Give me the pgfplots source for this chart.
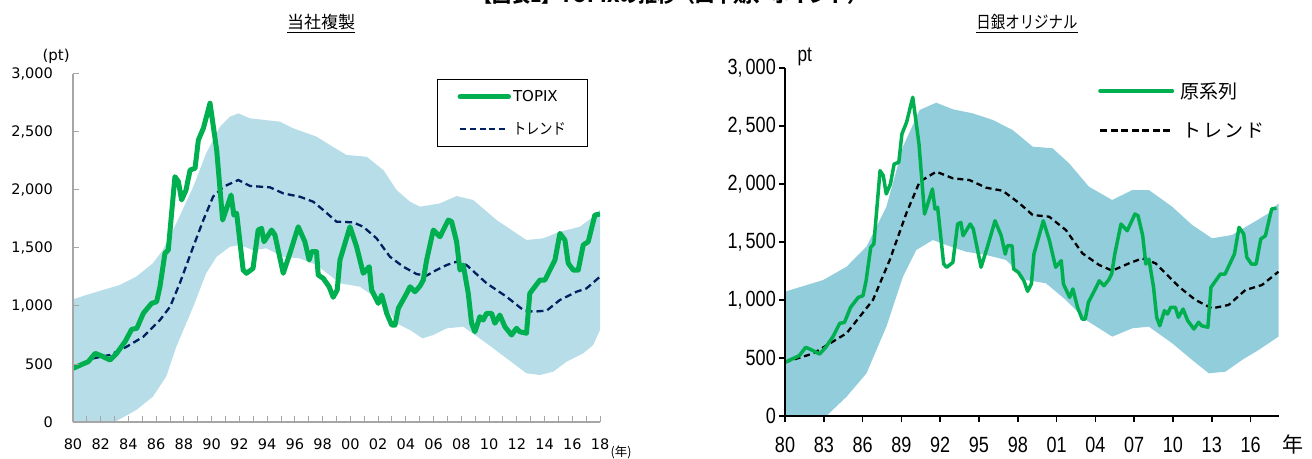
\documentclass[border=0pt]{standalone}
\usepackage{pgfplots}
\pgfplotsset{compat=1.18}
\usepackage{pgfplotstable}
\usepgfplotslibrary{fillbetween}
\usepackage{fontspec}
\setmainfont{DejaVu Sans}
\newfontfamily\jp{Noto Sans CJK JP}
\newfontfamily\jpn[FakeStretch=0.85]{Noto Sans CJK JP}
\newfontfamily\nar[FakeStretch=0.82]{Liberation Sans}
\definecolor{tgreen}{HTML}{00B050}
\definecolor{bandL}{HTML}{B7DEE8}
\definecolor{bandR}{HTML}{92CDDC}
\definecolor{navy}{HTML}{002060}
\definecolor{axgray}{HTML}{A6A6A6}

\pgfplotstableread{
x y
1980.00 463
1981.10 520
1981.60 592
1982.07 569
1982.67 534
1983.15 592
1983.75 692
1984.23 799
1984.60 807
1985.07 937
1985.67 1023
1986.03 1037
1986.27 1166
1986.63 1454
1986.87 1483
1987.35 2115
1987.60 2072
1987.83 1914
1988.15 2000
1988.44 2172
1988.80 2187
1989.04 2431
1989.40 2532
1989.88 2748
1990.36 2345
1990.79 1741
1991.40 1957
1991.60 1784
1991.80 1799
1992.27 1310
1992.50 1282
1992.98 1324
1993.35 1655
1993.60 1669
1993.77 1554
1994.32 1655
1994.56 1612
1995.16 1282
1995.64 1454
1996.24 1683
1996.72 1554
1997.03 1396
1997.20 1468
1997.56 1468
1997.68 1267
1998.04 1239
1998.47 1166
1998.76 1075
1999.05 1138
1999.25 1396
1999.97 1683
2000.45 1511
2000.93 1282
2001.36 1339
2001.53 1138
2002.01 1023
2002.26 1095
2002.62 937
2002.98 836
2003.22 836
2003.46 980
2004.06 1109
2004.30 1166
2004.66 1123
2005.02 1172
2005.26 1224
2005.50 1396
2005.98 1655
2006.46 1597
2007.06 1741
2007.30 1727
2007.66 1554
2007.90 1310
2008.14 1353
2008.50 1109
2008.74 851
2008.98 778
2009.34 908
2009.58 879
2009.82 937
2010.18 937
2010.42 851
2010.78 922
2011.14 822
2011.62 750
2011.98 808
2012.22 778
2012.70 765
2012.94 1109
2013.30 1166
2013.67 1224
2014.03 1224
2014.27 1282
2014.75 1396
2015.11 1626
2015.47 1569
2015.71 1368
2016.07 1310
2016.43 1310
2016.79 1526
2017.15 1554
2017.63 1784
2018.00 1793
}\topixtab

\pgfplotstableread{
x y
1980.00 463
1981.47 549
1982.67 578
1983.87 649
1985.07 735
1986.27 879
1987.00 994
1987.70 1196
1988.67 1511
1989.40 1741
1990.10 1942
1990.84 2028
1991.92 2086
1992.76 2035
1994.20 2023
1995.16 1971
1996.36 1942
1997.32 1899
1998.04 1828
1999.00 1727
2000.20 1721
2000.93 1683
2001.89 1583
2002.85 1425
2003.81 1339
2004.78 1275
2005.50 1262
2005.98 1296
2006.94 1353
2007.66 1382
2008.38 1353
2009.82 1196
2011.26 1080
2012.46 966
2013.18 951
2014.15 960
2015.11 1052
2016.31 1123
2017.03 1152
2018.00 1253
}\trendtab

\pgfplotstableread{
x y
1980.00 1057
1980.96 1095
1982.16 1138
1983.36 1181
1984.56 1253
1985.76 1368
1986.48 1483
1987.45 1713
1988.67 2028
1989.60 2316
1990.60 2546
1991.32 2632
1991.92 2661
1992.76 2618
1994.92 2589
1995.88 2532
1997.56 2460
1998.52 2388
1999.72 2302
2001.17 2287
2002.38 2172
2003.33 2000
2004.30 1899
2005.02 1856
2006.46 1885
2007.66 1948
2008.86 1914
2010.54 1741
2011.98 1626
2012.70 1569
2013.90 1583
2015.11 1641
2016.55 1683
2017.51 1770
2018.00 1828
}\bandup

\pgfplotstableread{
x y
1980.00 -220
1981.00 -150
1982.00 -80
1983.00 0
1984.56 103
1985.76 218
1986.72 391
1987.45 649
1988.67 994
1989.60 1282
1990.36 1425
1991.32 1511
1992.04 1526
1993.00 1480
1993.94 1497
1995.16 1425
1996.36 1410
1997.56 1353
1999.25 1196
2000.70 1166
2002.38 1023
2003.33 851
2004.30 793
2005.20 721
2005.98 750
2006.94 807
2008.14 822
2009.82 678
2011.26 549
2012.70 420
2013.67 405
2014.63 434
2015.59 520
2016.79 592
2017.51 664
2018.00 793
}\banddown

% right panel (BOJ original) trend and band
\pgfplotstableread{
x y
1980.00 463
1982.20 540
1984.76 713
1986.80 1000
1988.10 1345
1989.38 1747
1990.41 2020
1991.70 2106
1992.98 2049
1994.26 2034
1995.56 1968
1996.83 1942
1998.12 1834
1999.15 1733
2000.43 1718
2001.72 1603
2003.00 1402
2004.29 1302
2005.30 1253
2006.60 1316
2007.63 1359
2008.66 1316
2010.45 1115
2011.74 1000
2013.02 928
2014.30 957
2015.60 1086
2016.88 1129
2018.16 1244
}\trendR

\pgfplotstableread{
x y
1980.00 1072
1982.95 1172
1984.76 1287
1986.30 1460
1987.84 1804
1989.12 2322
1990.41 2638
1991.70 2701
1992.98 2644
1994.52 2609
1996.06 2552
1997.60 2466
1999.15 2322
2000.69 2308
2001.97 2178
2003.50 1977
2005.30 1862
2006.85 1948
2008.14 1948
2009.94 1804
2011.48 1647
2013.02 1532
2014.56 1560
2016.10 1661
2017.39 1747
2018.16 1834
}\bandupR

\pgfplotstableread{
x y
1980.00 -250
1981.00 -170
1982.00 -90
1983.20 0
1984.76 166
1986.30 368
1987.84 770
1989.12 1201
1990.15 1431
1991.43 1517
1992.47 1474
1994.00 1416
1995.56 1388
1997.09 1345
1998.64 1172
2000.18 1144
2001.72 1000
2003.26 828
2005.31 684
2006.85 756
2008.14 770
2009.94 627
2011.48 483
2012.77 368
2014.06 382
2015.34 483
2016.62 569
2018.16 684
}\banddownR

\begin{document}
\begin{tikzpicture}[x=1pt,y=1pt]
\begin{scope}
\clip (0,0) rectangle (1312,458);
\node[anchor=base, font={\jp\bfseries\fontsize{19}{22}\selectfont}] at (670,455) {【図表1】TOPIXの推移（四半期、ポイント）};
\end{scope}
\node[anchor=base, font={\jp\fontsize{17}{20}\selectfont}] at (321,429) {\underline{当社複製}};
\node[anchor=base, font={\jpn\fontsize{17}{20}\selectfont}] at (1027,429) {\underline{日銀オリジナル}};

% ---------------- left panel
\begin{axis}[
  at={(73pt,36pt)}, anchor=south west, scale only axis,
  width=527pt, height=348pt,
  xmin=1980, xmax=2018, ymin=0, ymax=3000,
  axis lines*=left, axis on top,
  axis line style={axgray, line width=1.5pt},
  tick style={axgray, line width=1pt},
  tick align=inside, major tick length=6pt, minor tick length=6pt,
  xtick={1980,1982,...,2018},
  minor xtick={1981,1983,...,2017},
  xticklabels={80,82,84,86,88,90,92,94,96,98,00,02,04,06,08,10,12,14,16,18},
  ytick={0,500,...,3000},
  /pgf/number format/assume math mode=true,
  /pgf/number format/1000 sep={,},
  ticklabel style={font=\fontsize{14.5}{17}\selectfont},
  xticklabel style={anchor=base, inner sep=0pt, yshift=-27pt},
  yticklabel style={anchor=east, inner sep=0pt, xshift=-20pt},
  clip mode=individual,
  legend style={at={(0.691,0.9856)}, anchor=north west, draw=black, line width=0.8pt,
    fill=white, inner xsep=20pt, inner ysep=9pt, row sep=15pt,
    font=\fontsize{15}{18}\selectfont, cells={anchor=west}},
  legend image code/.code={\draw[#1] (0pt,0pt) -- (48pt,0pt);},
]
\addplot[draw=none, name path=upL, forget plot] table[x=x,y=y]{\bandup};
\addplot[draw=none, name path=loL, forget plot] table[x=x,y=y]{\banddown};
\addplot[bandL, forget plot] fill between[of=upL and loL];
\addplot[navy, line width=2.3pt, dash pattern=on 7pt off 4pt, forget plot] table[x=x,y=y]{\trendtab};
\addplot[tgreen, line width=5pt, line join=round, forget plot] table[x=x,y=y]{\topixtab};
\addlegendimage{tgreen, line width=5.5pt, line cap=round}
\addlegendentry{TOPIX}
\addlegendimage{navy, line width=2pt, dash pattern=on 6pt off 3.6pt}
\addlegendentry{{\jpn\fontsize{15.5}{17}\selectfont トレンド}}
\node[anchor=base, font={\fontsize{15}{18}\selectfont}] at (axis description cs:-0.032,1.04) {(pt)};
\node[anchor=base, font={\jp\fontsize{12.5}{15}\selectfont}] at (axis description cs:1.04,0) [yshift=-34pt] {(年)};
\end{axis}

% ---------------- right panel
\begin{axis}[
  at={(785pt,42pt)}, anchor=south west, scale only axis,
  width=494pt, height=348pt,
  xmin=1980, xmax=2018.2, ymin=0, ymax=3000,
  axis lines*=left, axis on top,
  axis line style={black, line width=2.5pt},
  tick style={black, line width=1.5pt},
  tick align=outside, major tick length=6pt,
  xtick={1980,1983,...,2016},
  xticklabels={80,83,86,89,92,95,98,01,04,07,10,13,16},
  ytick={0,500,...,3000},
  /pgf/number format/assume math mode=true,
  /pgf/number format/1000 sep={,\hspace{3pt}},
  ticklabel style={font=\nar\fontsize{22}{26}\selectfont},
  xticklabel style={anchor=base, inner sep=0pt, yshift=-30pt},
  yticklabel style={anchor=east, inner sep=0pt, xshift=-3pt},
  clip mode=individual,
  legend style={at={(0.6336,0.965)}, anchor=north west, draw=none, fill=none,
    inner xsep=0pt, inner ysep=0pt, row sep=19pt,
    font={\jp\fontsize{19}{22}\selectfont}, cells={anchor=west}},
  legend image code/.code={\draw[#1] (0pt,0pt) -- (72pt,0pt);},
]
\addplot[draw=none, name path=upR, forget plot] table[x=x,y=y]{\bandupR};
\addplot[draw=none, name path=loR, forget plot] table[x=x,y=y]{\banddownR};
\addplot[bandR, forget plot] fill between[of=upR and loR];
\addplot[black, line width=2.3pt, dash pattern=on 6pt off 4pt, forget plot] table[x=x,y=y]{\trendR};
\addplot[tgreen, line width=3.5pt, line join=round, forget plot] table[x=x,y=y]{\topixtab};
\addlegendimage{tgreen, line width=4pt, line cap=round}
\addlegendentry{\hspace{4pt}原系列}
\addlegendimage{black, line width=2.5pt, dash pattern=on 7pt off 3.5pt}
\addlegendentry{\hspace{6pt}ト\hspace{2pt}レ\hspace{2pt}ン\hspace{2pt}ド}
\node[anchor=base, font={\nar\fontsize{21}{25}\selectfont}] at (axis description cs:0.04,1.02) {pt};
\node[anchor=base, font={\jp\fontsize{21}{25}\selectfont}] at (axis description cs:1.028,0) [yshift=-36pt] {年};
\end{axis}
\pgfresetboundingbox
\path[use as bounding box] (0,0) rectangle (1312,458);
\end{tikzpicture}
\end{document}
